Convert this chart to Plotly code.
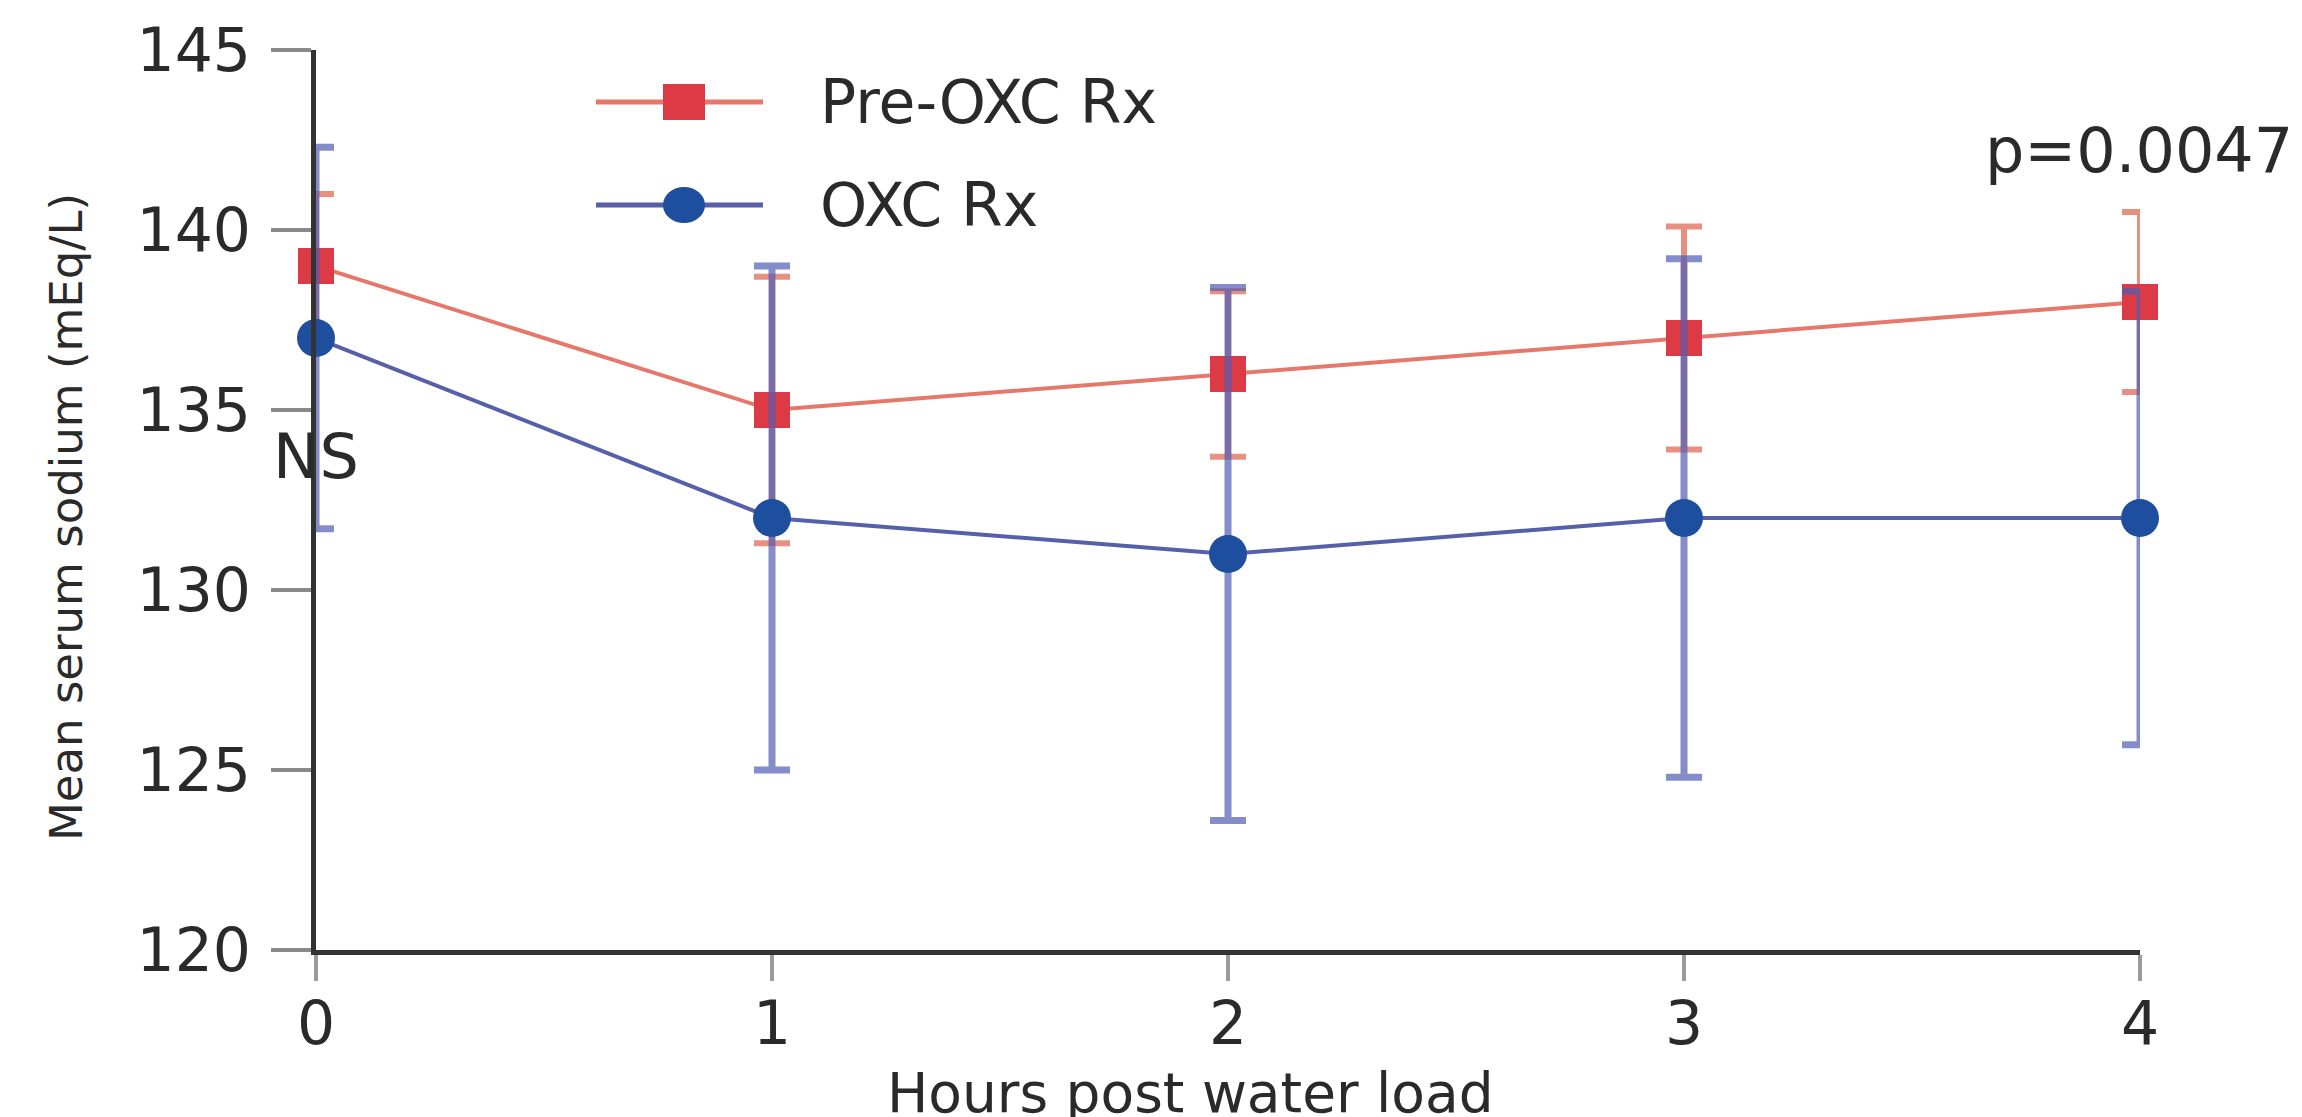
import plotly.graph_objects as go

# ---- data ----
hours = [0, 1, 2, 3, 4]
pre_oxc_mean = [139, 135, 136, 137, 138]
pre_oxc_err = [2.0, 3.7, 2.3, 3.1, 2.5]
oxc_mean = [137, 132, 131, 132, 132]
oxc_err = [5.3, 7.0, 7.4, 7.2, 6.3]
series_names = ["Pre-OXC Rx", "OXC Rx"]
y_ticks = [120, 125, 130, 135, 140, 145]
x_ticks = [0, 1, 2, 3, 4]

# ---- styles / layout (page pixels; the html body adds an 8px offset) ----
RED_MARK = "#DC3A45"
RED_LINE = "#E5786A"
RED_ERR = "rgba(228,125,105,0.85)"
BLUE_MARK = "#1E4F9F"
BLUE_LINE = "#5560A8"
BLUE_ERR = "rgba(80,92,178,0.7)"
FONT = "DejaVu Sans"
TXT = "#2a2a2a"
OFF = 8
W, H = 2302 - OFF, 1117 - OFF
X0_PAGE, X4_PAGE, YTOP_PAGE, YBOT_PAGE = 316, 2140, 50, 950
ML = X0_PAGE - OFF
MR = W - (X4_PAGE - OFF)
MT = YTOP_PAGE - OFF
MB = H - (YBOT_PAGE - OFF)
PW, PH = W - ML - MR, H - MT - MB


def px(xpage):
    return (xpage - OFF - ML) / PW


def py(ypage):
    return (H - MB - (ypage - OFF)) / PH


fig = go.Figure()
fig.add_trace(go.Scatter(
    x=hours, y=pre_oxc_mean, name=series_names[0], mode="lines+markers",
    line=dict(color=RED_LINE, width=4),
    marker=dict(symbol="square", size=36, color=RED_MARK),
    error_y=dict(type="data", array=pre_oxc_err, visible=True,
                 color=RED_ERR, thickness=6, width=18),
    cliponaxis=False, showlegend=False))
fig.add_trace(go.Scatter(
    x=hours, y=oxc_mean, name=series_names[1], mode="lines+markers",
    line=dict(color=BLUE_LINE, width=4),
    marker=dict(symbol="circle", size=38, color=BLUE_MARK),
    error_y=dict(type="data", array=oxc_err, visible=True,
                 color=BLUE_ERR, thickness=7, width=18),
    cliponaxis=False, showlegend=False))

# ---- manual legend ----
shapes = []
annotations = []
legend_rows = [(102, series_names[0], RED_LINE, RED_MARK, "rect"),
               (205, series_names[1], BLUE_LINE, BLUE_MARK, "circle")]
for ypix, name, lc, mc, kind in legend_rows:
    shapes.append(dict(type="line", xref="paper", yref="paper",
                       x0=px(596), x1=px(763), y0=py(ypix), y1=py(ypix),
                       line=dict(color=lc, width=5)))
    shapes.append(dict(type=kind, xref="paper", yref="paper",
                       xsizemode="pixel", ysizemode="pixel",
                       xanchor=px(684), yanchor=py(ypix),
                       x0=-21, x1=21, y0=-18, y1=18,
                       fillcolor=mc, line=dict(width=0)))
    annotations.append(dict(text=name, xref="paper", yref="paper",
                            x=px(818), y=py(ypix), xanchor="left", yanchor="middle",
                            showarrow=False, font=dict(family=FONT, size=60, color=TXT)))

annotations.append(dict(text="NS", x=0, y=133.7, xref="x", yref="y", showarrow=False,
                        xanchor="center", yanchor="middle",
                        font=dict(family=FONT, size=62, color=TXT)))
annotations.append(dict(text="p=0.0047", x=3.656, y=142.2, xref="x", yref="y", showarrow=False,
                        xanchor="left", yanchor="middle",
                        font=dict(family=FONT, size=62, color=TXT)))
# axis titles
annotations.append(dict(text="Hours post water load", xref="paper", yref="paper",
                        x=px(1190), y=py(1093), xanchor="center", yanchor="middle",
                        showarrow=False, font=dict(family=FONT, size=55, color=TXT)))
annotations.append(dict(text="Mean serum sodium (mEq/L)", xref="paper", yref="paper",
                        x=px(66), y=py(517), xanchor="center", yanchor="middle",
                        textangle=-90, showarrow=False,
                        font=dict(family=FONT, size=45, color=TXT)))

fig.update_layout(
    width=W, height=H,
    margin=dict(l=ML, r=MR, t=MT, b=MB, autoexpand=False),
    paper_bgcolor="white", plot_bgcolor="white",
    shapes=shapes, annotations=annotations,
    showlegend=False,
)
fig.update_xaxes(
    range=[0, 4], tickvals=x_ticks, ticktext=[str(v) for v in x_ticks],
    showgrid=False, zeroline=False, automargin=False,
    showline=True, linecolor="#333333", linewidth=5,
    ticks="outside", ticklen=26, tickwidth=4, tickcolor="#9a9a9a",
    ticklabelstandoff=-9,
    tickfont=dict(family=FONT, size=60, color=TXT),
)
fig.update_yaxes(
    range=[120, 145], tickvals=y_ticks, ticktext=[str(v) for v in y_ticks],
    showgrid=False, zeroline=False, automargin=False,
    showline=True, linecolor="#333333", linewidth=5,
    ticks="outside", ticklen=40, tickwidth=4, tickcolor="#8a8a8a",
    ticklabelstandoff=8,
    tickfont=dict(family=FONT, size=60, color=TXT),
)

fig.write_html("out.html")
